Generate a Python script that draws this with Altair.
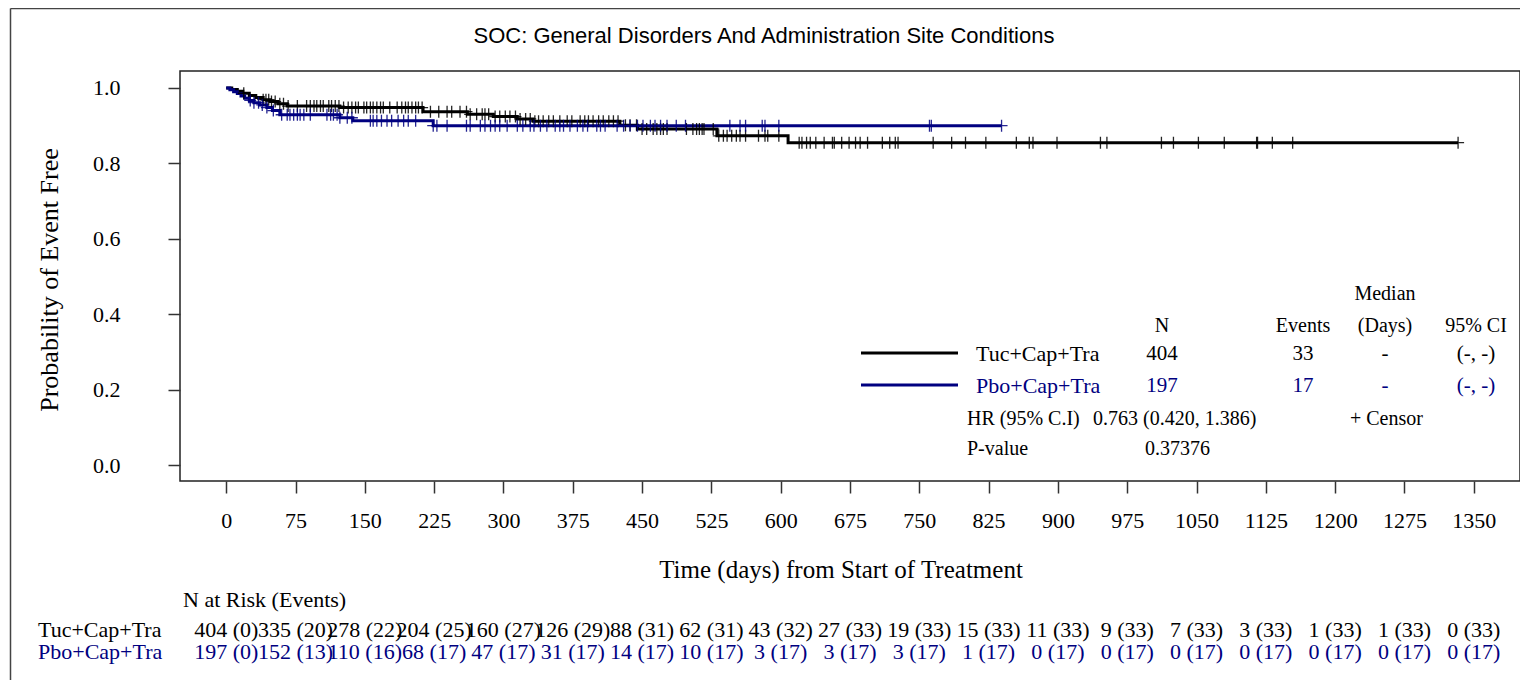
import altair as alt
import numpy as np
import pandas as pd

# ---------------- data ----------------
arms = ["Tuc+Cap+Tra", "Pbo+Cap+Tra"]
arm_colors = ["#000000", "#000080"]

# Kaplan-Meier step curves (time in days, survival probability)
tuc_time = [0, 6, 12, 18, 25, 32, 40, 48, 56, 66, 123, 213, 261, 289, 315, 332, 426, 445, 531, 608, 1333]
tuc_surv = [1.0, 0.996, 0.991, 0.986, 0.980, 0.975, 0.969, 0.964, 0.958, 0.952, 0.948, 0.937,
            0.930, 0.924, 0.918, 0.912, 0.901, 0.891, 0.873, 0.855, 0.855]
pbo_time = [0, 4, 8, 12, 16, 20, 25, 30, 36, 44, 50, 58, 123, 137, 224, 839]
pbo_surv = [1.0, 0.995, 0.990, 0.985, 0.979, 0.973, 0.967, 0.961, 0.955, 0.948, 0.940, 0.929,
            0.921, 0.913, 0.900, 0.900]

# censoring times
tuc_censor = [19, 40, 43, 46, 49, 53, 58, 62, 67, 77, 87, 91, 95, 98, 102, 105, 111, 114, 118, 122,
              127, 132, 136, 140, 143, 149, 152, 156, 159, 163, 167, 170, 177, 185, 190, 194, 197,
              201, 205, 208, 212, 221, 230, 239, 244, 253, 260, 264, 271, 277, 280, 284, 291, 296,
              302, 307, 313, 318, 324, 329, 334, 338, 343, 349, 354, 361, 369, 374, 383, 388, 392,
              397, 403, 408, 414, 419, 424, 432, 437, 444, 450, 455, 462, 466, 470, 473, 477, 498,
              505, 509, 512, 515, 517, 527, 533, 538, 542, 547, 552, 556, 562, 576, 583, 586, 598,
              620, 623, 628, 632, 638, 647, 656, 658, 666, 674, 681, 686, 694, 710, 718, 724, 727,
              765, 785, 800, 822, 855, 869, 873, 899, 946, 953, 1012, 1025, 1052, 1080, 1115, 1116,
              1132, 1154, 1333]
pbo_censor = [26, 30, 35, 39, 44, 51, 60, 66, 69, 73, 77, 80, 84, 91, 109, 113, 116, 120, 123, 131,
              136, 156, 159, 163, 168, 174, 179, 186, 192, 197, 205, 224, 228, 239, 260, 264, 275,
              280, 286, 291, 296, 304, 315, 321, 329, 333, 340, 347, 356, 361, 365, 372, 380, 386,
              391, 401, 405, 410, 423, 430, 437, 445, 451, 459, 464, 470, 477, 487, 497, 545, 556,
              562, 580, 583, 598, 761, 763, 839]

# number at risk (events)
risk_times = [0, 75, 150, 225, 300, 375, 450, 525, 600, 675, 750, 825, 900, 975, 1050, 1125, 1200, 1275, 1350]
tuc_risk = ["404 (0)", "335 (20)", "278 (22)", "204 (25)", "160 (27)", "126 (29)", "88 (31)", "62 (31)",
            "43 (32)", "27 (33)", "19 (33)", "15 (33)", "11 (33)", "9 (33)", "7 (33)", "3 (33)",
            "1 (33)", "1 (33)", "0 (33)"]
pbo_risk = ["197 (0)", "152 (13)", "110 (16)", "68 (17)", "47 (17)", "31 (17)", "14 (17)", "10 (17)",
            "3 (17)", "3 (17)", "3 (17)", "1 (17)", "0 (17)", "0 (17)", "0 (17)", "0 (17)", "0 (17)",
            "0 (17)", "0 (17)"]

# summary table
stat_headers = ["N", "Events", "(Days)", "95% CI"]
tuc_stats = ["404", "33", "-", "(-, -)"]
pbo_stats = ["197", "17", "-", "(-, -)"]
hr_label, hr_value = "HR (95% C.I)", "0.763 (0.420, 1.386)"
p_label, p_value = "P-value", "0.37376"

title_text = "SOC: General Disorders And Administration Site Conditions"
x_title = "Time (days) from Start of Treatment"
y_title = "Probability of Event Free"
y_ticks = [0.0, 0.2, 0.4, 0.6, 0.8, 1.0]

# ---------------- build ----------------
SERIF = "Liberation Serif"
SANS = "Liberation Sans"
W, H = 1340, 410

curves = pd.DataFrame(
    [{"arm": arms[0], "time": t, "surv": s} for t, s in zip(tuc_time, tuc_surv)]
    + [{"arm": arms[1], "time": t, "surv": s} for t, s in zip(pbo_time, pbo_surv)]
)


def step_at(times, survs, t):
    i = np.searchsorted(np.array(times), t, side="right") - 1
    return survs[i]


censors = pd.DataFrame(
    [{"arm": arms[0], "time": t, "surv": step_at(tuc_time, tuc_surv, t)} for t in tuc_censor]
    + [{"arm": arms[1], "time": t, "surv": step_at(pbo_time, pbo_surv, t)} for t in pbo_censor]
)

xs = alt.Scale(domain=[-50, 1400], nice=False, zero=False)
ys = alt.Scale(domain=[-0.0424, 1.045], nice=False, zero=False)
x_axis = alt.Axis(values=risk_times, format="d", title=None, grid=False, domain=False, tickSize=12,
                  tickWidth=1.5, tickColor="#333333", labelFont=SERIF, labelFontSize=22,
                  labelColor="black", labelPadding=27, labelBaseline="middle", labelFlush=False,
                  labelOverlap=False)
y_axis = alt.Axis(values=y_ticks, format=".1f", title=None, grid=False, domain=False, tickSize=12,
                  tickWidth=1.5, tickColor="#333333", labelFont=SERIF, labelFontSize=22,
                  labelColor="black", labelPadding=48, labelFlush=False, labelOverlap=False)
color = alt.Color("arm:N", scale=alt.Scale(domain=arms, range=arm_colors), legend=None)
X = alt.X("time:Q", scale=xs, axis=x_axis)
Y = alt.Y("surv:Q", scale=ys, axis=y_axis)

lines = alt.Chart(curves).mark_line(interpolate="step-after", strokeWidth=3).encode(x=X, y=Y, color=color)
marks = alt.Chart(censors).mark_point(shape="M0,-1V1M-1,0H1", size=144, filled=False, strokeWidth=1.3,
                                      opacity=0.85).encode(x=X, y=Y, color=color)


def txt(s, x, y, size=20, color="black", align="left", font=SERIF, angle=None):
    kw = dict(align=align, baseline="middle", font=font, fontSize=size, color=color)
    if angle is not None:
        kw["angle"] = angle
    return alt.Chart(pd.DataFrame({"s": [s]})).mark_text(**kw).encode(
        x=alt.value(x), y=alt.value(y), text="s:N")


def risk_row(labels, ypix, col):
    df = pd.DataFrame({"time": risk_times, "label": labels})
    return alt.Chart(df).mark_text(align="center", baseline="middle", font=SERIF, fontSize=22,
                                   color=col).encode(x=X, y=alt.value(ypix), text="label:N")


def rule(x1, x2, y1, y2, col, w):
    enc = dict(x=alt.value(x1), y=alt.value(y1))
    if x2 is not None:
        enc["x2"] = alt.value(x2)
    if y2 is not None:
        enc["y2"] = alt.value(y2)
    return alt.Chart(pd.DataFrame({"a": [0]})).mark_rule(color=col, strokeWidth=w).encode(**enc)


layers = [lines, marks]
# titles
layers.append(txt(title_text, 584, -35, size=22, align="center", font=SANS))
layers.append(txt(x_title, 661, 499, size=25, align="center"))
layers.append(txt(y_title, -130, 209, size=26, align="center", angle=270))
# risk table
layers.append(txt("N at Risk (Events)", 3, 529, size=22))
layers.append(txt(arms[0], -142, 559, size=22, color=arm_colors[0]))
layers.append(txt(arms[1], -142, 581, size=22, color=arm_colors[1]))
layers.append(risk_row(tuc_risk, 559, arm_colors[0]))
layers.append(risk_row(pbo_risk, 581, arm_colors[1]))
# summary legend
col_x = [982, 1123, 1205, 1296]
layers.append(txt("Median", 1205, 223, size=20, align="center"))
for h, cx in zip(stat_headers, col_x):
    layers.append(txt(h, cx, 255, size=20, align="center"))
for row_y, arm, col, vals in [(283, arms[0], arm_colors[0], tuc_stats), (315, arms[1], arm_colors[1], pbo_stats)]:
    layers.append(rule(681, 778, row_y - 1, None, col, 3))
    layers.append(txt(arm, 796, row_y, size=22, color=col))
    for v, cx in zip(vals, col_x):
        layers.append(txt(v, cx, row_y, size=21, color=col, align="center"))
layers.append(txt(hr_label, 787, 348, size=20))
layers.append(txt(hr_value, 913, 348, size=20))
layers.append(txt("+ Censor", 1170, 348, size=20))
layers.append(txt(p_label, 787, 378, size=20))
layers.append(txt(p_value, 965, 378, size=20))
# outer frame (left and top edges)
layers.append(rule(-169.5, 1345, -62.5, None, "#444444", 1.5))
layers.append(rule(-169.5, None, -62.5, 615, "#444444", 1.5))

chart = alt.layer(*layers).properties(
    width=W, height=H, autosize="none",
    padding={"left": 172, "top": 63, "right": 0, "bottom": 199},
    background="white",
).configure_view(stroke="#222222", strokeWidth=1.5)

chart.save("out.html", embed_options={"renderer": "svg", "actions": False})
